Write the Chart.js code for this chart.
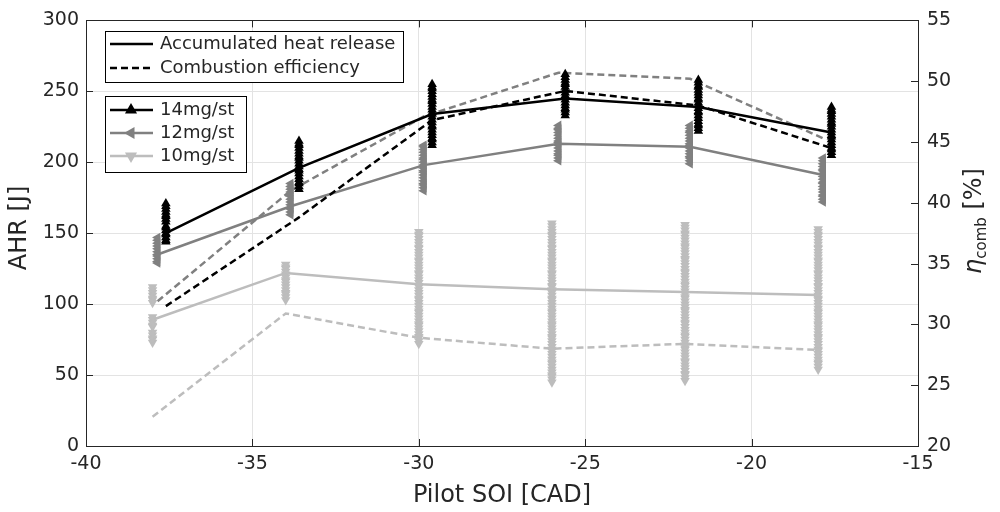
<!DOCTYPE html>
<html>
<head>
<meta charset="utf-8">
<script src="https://cdn.jsdelivr.net/npm/chart.js@4.4.0/dist/chart.umd.min.js"></script>
<style>
  html, body { margin: 0; padding: 0; background: #fff; }
  #wrap { width: 1000px; height: 512px; }
</style>
</head>
<body>
<div id="wrap"><canvas id="myChart" width="1000" height="512"></canvas></div>
<script>
// pilot start of injection for each load (CAD)
var soi14 = [-37.6, -33.6, -29.6, -25.6, -21.6, -17.6];
var soi12 = [-37.85, -33.85, -29.85, -25.8, -21.85, -17.85];
var soi10 = [-38.0, -34.0, -30.0, -26.0, -22.0, -18.0];

// mean accumulated heat release [J]
var ahr14 = [150, 196, 234, 245, 239, 221];
var ahr12 = [135, 169, 198, 213, 211, 191];
var ahr10 = [89, 122, 114, 110.5, 108.5, 106.5];

// combustion efficiency [%]
var eta14 = [31.5, 38.8, 46.8, 49.2, 48.0, 44.5];
var eta12 = [31.9, 41.0, 47.1, 50.7, 50.2, 45.3];
var eta10 = [22.4, 30.9, 28.9, 28.0, 28.4, 27.9];

// single cycle AHR values [J]
var cyc14 = [
  [144, 145, 147, 149, 150, 152, 154, 155, 158, 160, 162, 163, 165, 167, 169, 171],
  [181, 183, 185, 186, 188, 190, 192, 194, 195, 197, 199, 201, 203, 204, 206, 208, 210, 212, 213, 215],
  [212, 214, 216, 217, 219, 221, 223, 225, 226, 228, 230, 232, 234, 235, 237, 239, 241, 243, 244, 246, 248, 250, 252, 253, 255],
  [233, 235, 237, 238, 240, 242, 244, 246, 247, 249, 251, 253, 255, 256, 258, 260, 262],
  [222, 224, 226, 227, 229, 231, 233, 235, 236, 238, 240, 242, 244, 245, 247, 249, 251, 253, 254, 256, 258],
  [205, 207, 209, 210, 212, 214, 216, 218, 219, 221, 223, 225, 227, 228, 230, 232, 234, 236, 237, 239]
];
var cyc12 = [
  [129, 130, 132, 134, 135, 137, 139, 141, 143, 145, 147],
  [163, 165, 167, 168, 170, 172, 174, 176, 177, 179, 181, 183, 185],
  [180, 182, 184, 185, 187, 189, 191, 193, 194, 196, 198, 200, 202, 203, 205, 207, 209, 211, 212],
  [201, 203, 205, 206, 208, 210, 212, 214, 215, 217, 219, 221, 223, 224, 226],
  [199, 201, 203, 204, 206, 208, 210, 212, 213, 215, 217, 219, 221, 222, 224, 226],
  [172, 174, 176, 177, 179, 181, 183, 185, 186, 188, 190, 192, 194, 195, 197, 199, 201, 203]
];
var cyc10 = [
  [73, 75, 76, 78, 80, 84, 85, 87, 89, 91, 101, 103, 104, 106, 108, 110, 112],
  [103, 105, 107, 108, 110, 112, 114, 116, 117, 119, 121, 123, 125, 126, 128],
  [72, 74, 76, 77, 79, 81, 83, 85, 86, 88, 90, 92, 94, 95, 97, 99, 101, 103, 104, 106, 108, 110, 112, 113, 115,
   117, 119, 121, 122, 124, 126, 128, 130, 131, 133, 135, 137, 139, 140, 142, 144, 146, 148, 149, 151],
  [45, 47, 49, 50, 52, 54, 56, 58, 59, 61, 63, 65, 67, 68, 70, 72, 74, 76, 77, 79, 81, 83, 85, 86, 88, 90, 92, 94,
   95, 97, 99, 101, 103, 104, 106, 108, 110, 112, 113, 115, 117, 119, 121, 122, 124, 126, 128, 130, 131, 133, 135,
   137, 139, 140, 142, 144, 146, 148, 149, 151, 153, 155, 157],
  [46, 48, 50, 51, 53, 55, 57, 59, 60, 62, 64, 66, 68, 69, 71, 73, 75, 77, 78, 80, 82, 84, 86, 87, 89, 91, 93, 95,
   96, 98, 100, 102, 104, 105, 107, 109, 111, 113, 114, 116, 118, 120, 122, 123, 125, 127, 129, 131, 132, 134, 136,
   138, 140, 141, 143, 145, 147, 149, 150, 152, 154, 156],
  [54, 56, 58, 59, 61, 63, 65, 67, 68, 70, 72, 74, 76, 77, 79, 81, 83, 85, 86, 88, 90, 92, 94, 95, 97, 99, 101, 103,
   104, 106, 108, 110, 112, 113, 115, 117, 119, 121, 122, 124, 126, 128, 130, 131, 133, 135, 137, 139, 140, 142,
   144, 146, 148, 149, 151, 153]
];

var xTicks = [-40, -35, -30, -25, -20, -15];

var black = '#000000';
var grey = '#808080';
var light = '#bdbdbd';
var axisColor = '#262626';
var fontName = "'DejaVu Sans', Verdana, sans-serif";

function pts(xs, ys) {
  return xs.map(function (x, i) { return { x: x, y: ys[i] }; });
}
function cycles(xs, sets) {
  var out = [];
  sets.forEach(function (set, i) {
    set.forEach(function (v) { out.push({ x: xs[i], y: v }); });
  });
  return out;
}

function triangle(ctx, x, y, r, rot, color) {
  var a = rot * Math.PI / 180;
  ctx.beginPath();
  for (var k = 0; k < 3; k++) {
    var b = a + k * 2 * Math.PI / 3;
    var px = x + Math.sin(b) * r;
    var py = y - Math.cos(b) * r;
    if (k === 0) ctx.moveTo(px, py); else ctx.lineTo(px, py);
  }
  ctx.closePath();
  ctx.fillStyle = color;
  ctx.fill();
}

var decor = {
  id: 'decor',
  afterDraw: function (chart) {
    var ctx = chart.ctx;
    var a = chart.chartArea;
    var sx = chart.scales.x, sy = chart.scales.y, sy1 = chart.scales.y1;
    ctx.save();

    // frame and inward ticks
    ctx.strokeStyle = axisColor;
    ctx.lineWidth = 1;
    ctx.strokeRect(Math.round(a.left) + 0.5, Math.round(a.top) + 0.5, Math.round(a.right - a.left), Math.round(a.bottom - a.top));
    ctx.beginPath();
    sx.ticks.forEach(function (t) {
      var px = Math.round(sx.getPixelForValue(t.value)) + 0.5;
      ctx.moveTo(px, a.bottom); ctx.lineTo(px, a.bottom - 7);
      ctx.moveTo(px, a.top); ctx.lineTo(px, a.top + 7);
    });
    sy.ticks.forEach(function (t) {
      var py = Math.round(sy.getPixelForValue(t.value)) + 0.5;
      ctx.moveTo(a.left, py); ctx.lineTo(a.left + 7, py);
    });
    sy1.ticks.forEach(function (t) {
      var py = Math.round(sy1.getPixelForValue(t.value)) + 0.5;
      ctx.moveTo(a.right, py); ctx.lineTo(a.right - 7, py);
    });
    ctx.stroke();

    // axis titles
    ctx.fillStyle = axisColor;
    ctx.font = '24px ' + fontName;
    ctx.textAlign = 'center';
    ctx.textBaseline = 'middle';
    ctx.fillText('Pilot SOI [CAD]', (a.left + a.right) / 2, 496);

    ctx.save();
    ctx.translate(20, 228);
    ctx.rotate(-Math.PI / 2);
    ctx.fillText('AHR [J]', 0, 0);
    ctx.restore();

    ctx.save();
    ctx.translate(973, 221);
    ctx.rotate(-Math.PI / 2);
    ctx.textAlign = 'left';
    ctx.textBaseline = 'alphabetic';
    var f1 = 'italic 24px ' + fontName, f2 = '15px ' + fontName, f3 = '24px ' + fontName;
    ctx.font = f1; var w1 = ctx.measureText('\u03b7').width;
    ctx.font = f2; var w2 = ctx.measureText('comb').width;
    ctx.font = f3; var w3 = ctx.measureText(' [%]').width;
    var x0 = -(w1 + w2 + w3) / 2;
    ctx.font = f1; ctx.fillText('\u03b7', x0, 8);
    ctx.font = f2; ctx.fillText('comb', x0 + w1, 13);
    ctx.font = f3; ctx.fillText(' [%]', x0 + w1 + w2, 8);
    ctx.restore();

    // legend: line styles
    ctx.fillStyle = '#ffffff';
    ctx.fillRect(105.5, 31.5, 298, 51);
    ctx.strokeStyle = '#000';
    ctx.strokeRect(105.5, 31.5, 298, 51);
    ctx.lineWidth = 2.5;
    ctx.strokeStyle = black;
    ctx.beginPath(); ctx.moveTo(110, 44); ctx.lineTo(153, 44); ctx.stroke();
    ctx.setLineDash([7, 4]);
    ctx.beginPath(); ctx.moveTo(110, 68); ctx.lineTo(153, 68); ctx.stroke();
    ctx.setLineDash([]);
    ctx.fillStyle = axisColor;
    ctx.font = '18px ' + fontName;
    ctx.textAlign = 'left';
    ctx.textBaseline = 'middle';
    ctx.fillText('Accumulated heat release', 160, 44);
    ctx.fillText('Combustion efficiency', 160, 68);

    // legend: loads
    ctx.lineWidth = 1;
    ctx.fillStyle = '#ffffff';
    ctx.fillRect(105.5, 96.5, 141, 76);
    ctx.strokeStyle = '#000';
    ctx.strokeRect(105.5, 96.5, 141, 76);
    var rows = [
      { y: 110, c: black, rot: 0, t: '14mg/st' },
      { y: 133, c: grey, rot: -90, t: '12mg/st' },
      { y: 156, c: light, rot: 180, t: '10mg/st' }
    ];
    rows.forEach(function (r) {
      ctx.lineWidth = 2.5;
      ctx.strokeStyle = r.c;
      ctx.beginPath(); ctx.moveTo(110, r.y); ctx.lineTo(153, r.y); ctx.stroke();
      triangle(ctx, 131, r.y, 7, r.rot, r.c);
      ctx.fillStyle = axisColor;
      ctx.fillText(r.t, 160, r.y);
    });
    ctx.restore();
  }
};

function lineSet(data, color, axis, dashed, order) {
  return {
    type: 'line',
    data: data,
    yAxisID: axis,
    borderColor: color,
    borderWidth: 2.5,
    borderDash: dashed ? [7, 4] : [],
    pointRadius: 0,
    fill: false,
    tension: 0,
    order: order
  };
}
function markSet(data, color, rot, order) {
  return {
    type: 'scatter',
    data: data,
    yAxisID: 'y',
    pointStyle: 'triangle',
    rotation: rot,
    pointRadius: 5.5,
    pointBorderWidth: 0,
    backgroundColor: color,
    borderColor: color,
    order: order
  };
}

const ctx = document.getElementById('myChart');

new Chart(ctx, {
  data: {
    datasets: [
      markSet(cycles(soi14, cyc14), black, 0, 1),
      markSet(cycles(soi12, cyc12), grey, -90, 2),
      markSet(cycles(soi10, cyc10), light, 180, 3),
      lineSet(pts(soi14, ahr14), black, 'y', false, 4),
      lineSet(pts(soi14, eta14), black, 'y1', true, 5),
      lineSet(pts(soi12, ahr12), grey, 'y', false, 6),
      lineSet(pts(soi12, eta12), grey, 'y1', true, 7),
      lineSet(pts(soi10, ahr10), light, 'y', false, 8),
      lineSet(pts(soi10, eta10), light, 'y1', true, 9)
    ]
  },
  options: {
    responsive: false,
    animation: false,
    events: [],
    layout: { padding: { top: 15, left: 0, right: 0, bottom: 0 } },
    plugins: { legend: { display: false }, tooltip: { enabled: false } },
    scales: {
      x: {
        type: 'linear',
        min: -40,
        max: -15,
        afterBuildTicks: function (s) { s.ticks = xTicks.map(function (v) { return { value: v }; }); },
        afterFit: function (s) { s.height = 66; },
        grid: { color: '#e3e3e3', drawTicks: false },
        border: { display: false },
        ticks: { padding: 7, color: axisColor, font: { family: fontName, size: 19 }, maxRotation: 0 }
      },
      y: {
        position: 'left',
        min: 0,
        max: 300,
        afterFit: function (s) { s.width = 86; },
        grid: { color: '#e3e3e3', drawTicks: false },
        border: { display: false },
        ticks: { stepSize: 50, padding: 7, color: axisColor, font: { family: fontName, size: 19 } }
      },
      y1: {
        position: 'right',
        min: 20,
        max: 55,
        afterFit: function (s) { s.width = 82; },
        grid: { drawOnChartArea: false, drawTicks: false },
        border: { display: false },
        ticks: { stepSize: 5, padding: 9, color: axisColor, font: { family: fontName, size: 19 } }
      }
    }
  },
  plugins: [decor]
});
</script>
</body>
</html>
